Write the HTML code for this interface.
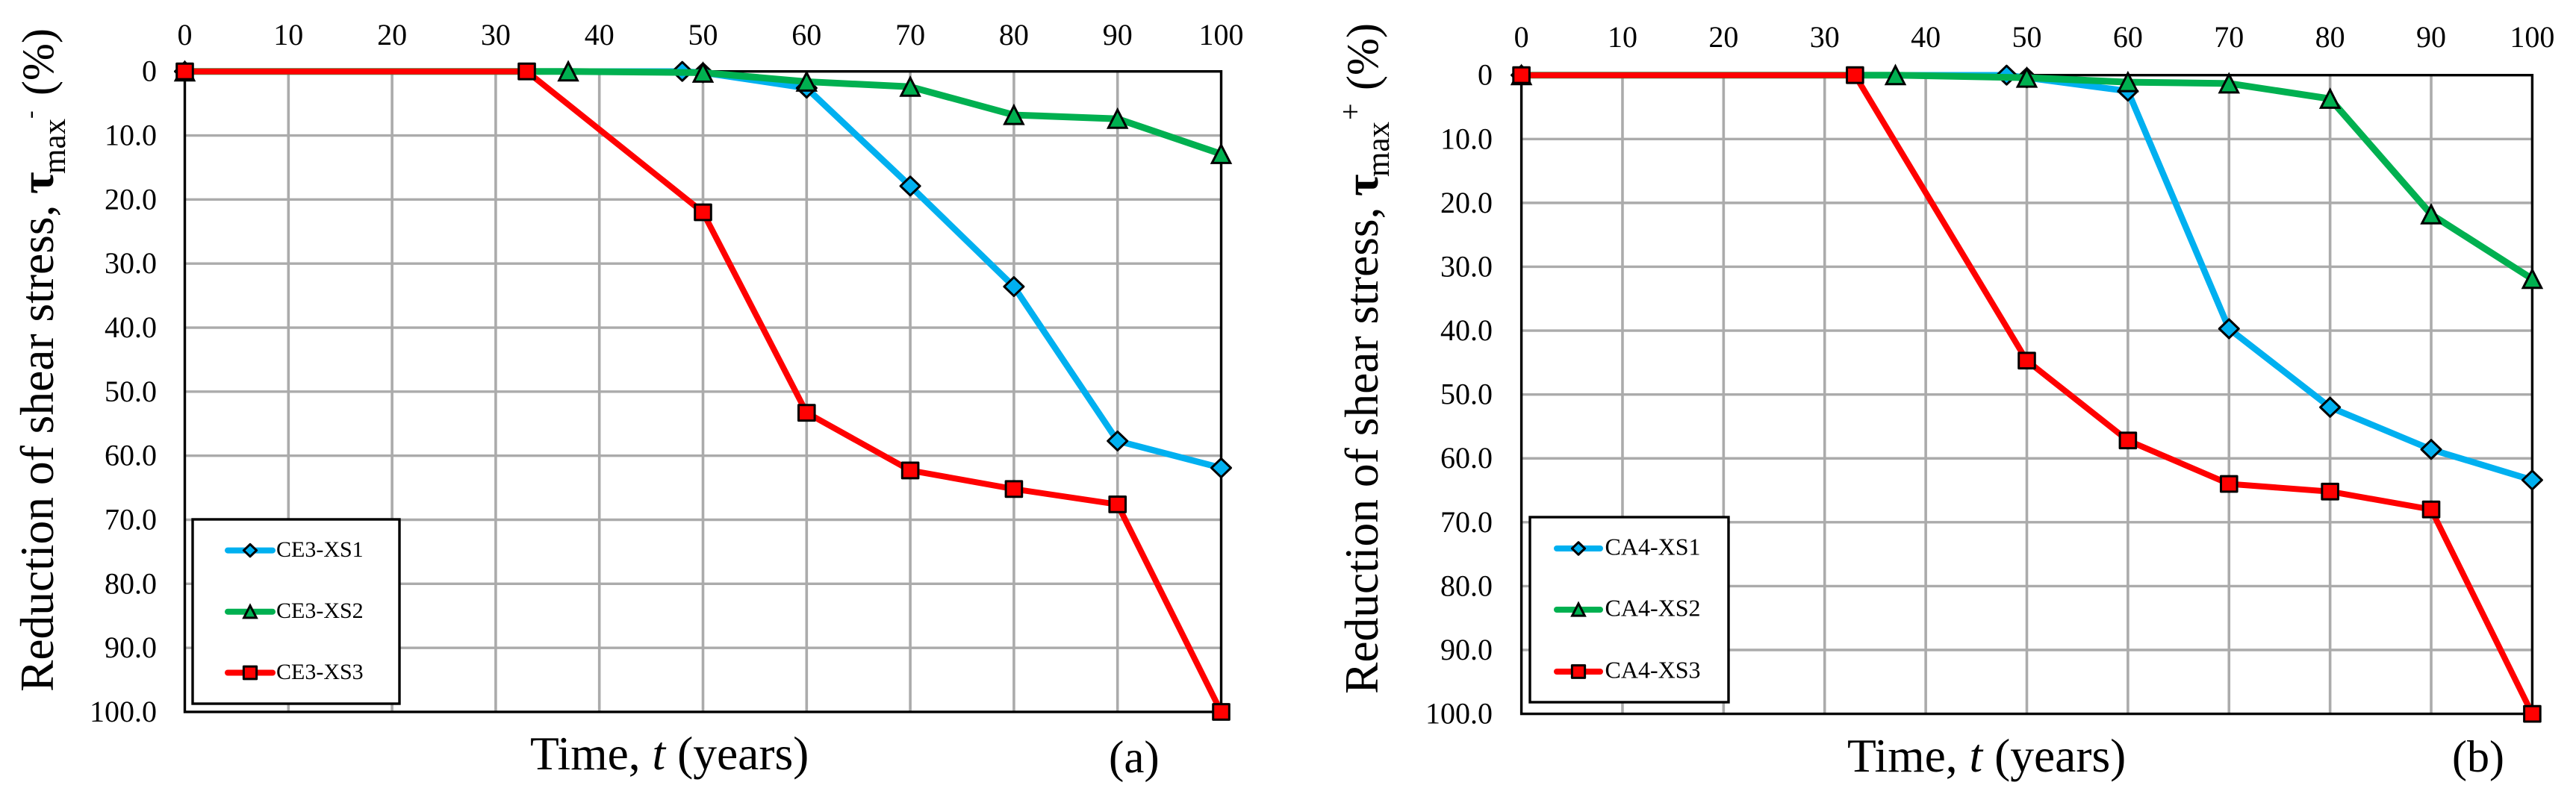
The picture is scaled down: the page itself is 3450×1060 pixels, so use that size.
<!DOCTYPE html>
<html lang="en">
<head>
<meta charset="utf-8">
<title>Reduction of shear stress over time</title>
<style>
  html, body { margin: 0; padding: 0; background: #fff; }
  svg { display: block; }
  text { font-family: "Liberation Serif", "DejaVu Serif", serif; fill: #000; }
</style>
</head>
<body>
<svg id="figure" xmlns="http://www.w3.org/2000/svg" width="3450" height="1060" viewBox="0 0 3450 1060">
  <rect width="3450" height="1060" fill="#ffffff"/>
  <g id="chart-a"></g>
  <g id="chart-b"></g>

  <g>
    <text transform="translate(71 927) rotate(-90)" font-size="63.5">Reduction of shear stress,</text>
    <text transform="translate(71 260) rotate(-90)" font-size="64" font-weight="bold">τ</text>
    <text transform="translate(87 233) rotate(-90)" font-size="43">max</text>
    <text transform="translate(50.5 159) rotate(-90)" font-size="32">-</text>
    <text transform="translate(71 128) rotate(-90)" font-size="60">(%)</text>
  </g>
  <text x="710" y="1031" font-size="63.5">Time, <tspan font-style="italic">t</tspan> (years)</text>
  <text x="1485" y="1035" font-size="61">(a)</text>

  <g>
    <text transform="translate(1845 930) rotate(-90)" font-size="63.5">Reduction of shear stress,</text>
    <text transform="translate(1845 263) rotate(-90)" font-size="64" font-weight="bold">τ</text>
    <text transform="translate(1860 237) rotate(-90)" font-size="43">max</text>
    <text transform="translate(1822 161) rotate(-90)" font-size="40">+</text>
    <text transform="translate(1845 121) rotate(-90)" font-size="60">(%)</text>
  </g>
  <text x="2474" y="1034" font-size="63.5">Time, <tspan font-style="italic">t</tspan> (years)</text>
  <text x="3284" y="1034" font-size="60">(b)</text>

  <g id="legend-layer"></g>
</svg>

<script>
// ---- shared axis data ----
const xTickLabels = ['0', '10', '20', '30', '40', '50', '60', '70', '80', '90', '100'];
const xTickValues = [0, 10, 20, 30, 40, 50, 60, 70, 80, 90, 100];
const yTickValues = [0, 10, 20, 30, 40, 50, 60, 70, 80, 90, 100];
const yTickLabels = ['0', '10.0', '20.0', '30.0', '40.0', '50.0', '60.0', '70.0', '80.0', '90.0', '100.0'];

// ---- chart (a) data ----
const ce3Xs1Years = [0, 48, 50, 60, 70, 80, 90, 100];
const ce3Xs1Values = [0, 0, 0.2, 2.6, 17.9, 33.6, 57.7, 61.9];
const ce3Xs2Years = [0, 37, 50, 60, 70, 80, 90, 100];
const ce3Xs2Values = [0, 0, 0.2, 1.6, 2.4, 6.8, 7.4, 12.9];
const ce3Xs3Years = [0, 33, 50, 60, 70, 80, 90, 100];
const ce3Xs3Values = [0, 0, 22.0, 53.3, 62.3, 65.2, 67.6, 100];

// ---- chart (b) data ----
const ca4Xs1Years = [0, 48, 50, 60, 70, 80, 90, 100];
const ca4Xs1Values = [0, 0, 0.4, 2.5, 39.7, 52.0, 58.6, 63.4];
const ca4Xs2Years = [0, 37, 50, 60, 70, 80, 90, 100];
const ca4Xs2Values = [0, 0, 0.4, 1.1, 1.3, 3.7, 21.8, 31.9];
const ca4Xs3Years = [0, 33, 50, 60, 70, 80, 90, 100];
const ca4Xs3Values = [0, 0, 44.7, 57.2, 64.0, 65.2, 68.0, 100];

const legendNamesA = ['CE3-XS1', 'CE3-XS2', 'CE3-XS3'];
const legendNamesB = ['CA4-XS1', 'CA4-XS2', 'CA4-XS3'];

const SVG_NS = 'http://www.w3.org/2000/svg';
const BLUE = '#00B0F0';
const GREEN = '#00B050';
const RED = '#FF0000';
const GRID = '#ABABAB';

function make(tag, parent, attrs) {
  const el = document.createElementNS(SVG_NS, tag);
  for (const key in attrs) el.setAttribute(key, attrs[key]);
  parent.appendChild(el);
  return el;
}

function drawMarker(parent, shape, cx, cy, color, k, name) {
  let el;
  if (shape === 'diamond') {
    const w = 13 * k, h = 12.5 * k;
    el = make('polygon', parent, {
      points: cx + ',' + (cy - h) + ' ' + (cx + w) + ',' + cy + ' ' + cx + ',' + (cy + h) + ' ' + (cx - w) + ',' + cy,
      fill: color, stroke: '#000', 'stroke-width': 3, 'stroke-linejoin': 'round'
    });
  } else if (shape === 'triangle') {
    el = make('polygon', parent, {
      points: cx + ',' + (cy - 12 * k) + ' ' + (cx + 12.3 * k) + ',' + (cy + 12 * k) + ' ' + (cx - 12.3 * k) + ',' + (cy + 12 * k),
      fill: color, stroke: '#000', 'stroke-width': 3, 'stroke-linejoin': 'miter'
    });
  } else {
    const w = 10.8 * k, h = 10.4 * k;
    el = make('rect', parent, {
      x: cx - w, y: cy - h, width: 2 * w, height: 2 * h,
      fill: color, stroke: '#000', 'stroke-width': 3, 'stroke-linejoin': 'round'
    });
  }
  
  
}

function drawChart(root, box, seriesList) {
  const sx = v => box.left + (box.right - box.left) * v / 100;
  const sy = v => box.top + (box.bottom - box.top) * v / 100;

  const grid = make('g', root, {});
  
  
  xTickValues.slice(1, -1).forEach(v => {
    const ln = make('line', grid, { x1: sx(v), x2: sx(v), y1: box.top, y2: box.bottom, stroke: GRID, 'stroke-width': 3.6 });
    
    
  });
  yTickValues.slice(1, -1).forEach(v => {
    const ln = make('line', grid, { x1: box.left, x2: box.right, y1: sy(v), y2: sy(v), stroke: GRID, 'stroke-width': 3.4 });
    
    
  });

  const frame = make('rect', root, {
    x: box.left, y: box.top, width: box.right - box.left, height: box.bottom - box.top,
    fill: 'none', stroke: '#000', 'stroke-width': 3.4
  });
  
  

  xTickValues.forEach((v, i) => {
    const t = make('text', root, { x: sx(v), y: box.xLabelBase, 'font-size': 40, 'text-anchor': 'middle' });
    t.textContent = xTickLabels[i];
    
    
  });
  yTickValues.forEach((v, i) => {
    const t = make('text', root, { x: box.yLabelRight, y: sy(v) + 13, 'font-size': 40, 'text-anchor': 'end' });
    t.textContent = yTickLabels[i];
    
    
  });

  seriesList.forEach(s => {
    const g = make('g', root, {});
    
    
    const pts = s.years.map((y, i) => sx(y) + ',' + sy(s.values[i])).join(' ');
    const line = make('polyline', g, {
      points: pts, fill: 'none', stroke: s.color, 'stroke-width': s.width, 'stroke-linejoin': 'round'
    });
    
    
    s.years.forEach((y, i) => {
      drawMarker(g, s.shape, sx(y), sy(s.values[i]), s.color, 1, 'data-point');
    });
  });
}

function drawLegend(parent, lg, names) {
  const g = make('g', parent, {});
  
  
  const frame = make('rect', g, {
    x: lg.left, y: lg.top, width: lg.right - lg.left, height: lg.bottom - lg.top,
    fill: '#fff', stroke: '#000', 'stroke-width': 3.4
  });
  
  
  const colors = [BLUE, GREEN, RED];
  const shapes = ['diamond', 'triangle', 'square'];
  const scales = [0.66, 0.68, 0.8];
  names.forEach((name, i) => {
    const y = lg.rows[i];
    const entry = make('g', g, {});
    
    
    const ln = make('line', entry, {
      x1: lg.lineStart, x2: lg.lineEnd, y1: y, y2: y, stroke: colors[i], 'stroke-width': 8, 'stroke-linecap': 'round'
    });
    
    
    drawMarker(entry, shapes[i], (lg.lineStart + lg.lineEnd) / 2, y, colors[i], scales[i], 'legend-marker');
    const t = make('text', entry, { x: lg.textX, y: y + 8.5, 'font-size': lg.fontSize });
    t.textContent = name;
    
    
  });
}

drawChart(document.getElementById('chart-a'),
  { left: 247.5, right: 1635.5, top: 95.7, bottom: 954, xLabelBase: 60, yLabelRight: 210 },
  [
    { key: 'ce3-xs1', years: ce3Xs1Years, values: ce3Xs1Values, color: BLUE, shape: 'diamond', width: 8.5 },
    { key: 'ce3-xs2', years: ce3Xs2Years, values: ce3Xs2Values, color: GREEN, shape: 'triangle', width: 9 },
    { key: 'ce3-xs3', years: ce3Xs3Years, values: ce3Xs3Values, color: RED, shape: 'square', width: 8 }
  ]);

drawChart(document.getElementById('chart-b'),
  { left: 2037.6, right: 3391.4, top: 100.7, bottom: 956.6, xLabelBase: 63, yLabelRight: 1999 },
  [
    { key: 'ca4-xs1', years: ca4Xs1Years, values: ca4Xs1Values, color: BLUE, shape: 'diamond', width: 8.5 },
    { key: 'ca4-xs2', years: ca4Xs2Years, values: ca4Xs2Values, color: GREEN, shape: 'triangle', width: 9 },
    { key: 'ca4-xs3', years: ca4Xs3Years, values: ca4Xs3Values, color: RED, shape: 'square', width: 8 }
  ]);

const legendLayer = document.getElementById('legend-layer');
drawLegend(legendLayer,
  { left: 258, right: 535, top: 696, bottom: 943, lineStart: 305, lineEnd: 365, textX: 370, fontSize: 30, rows: [737.6, 819.7, 901.5] },
  legendNamesA);
drawLegend(legendLayer,
  { left: 2049, right: 2315, top: 693, bottom: 941, lineStart: 2085, lineEnd: 2143, textX: 2149.5, fontSize: 32, rows: [735, 817, 900] },
  legendNamesB);
</script>
</body>
</html>
